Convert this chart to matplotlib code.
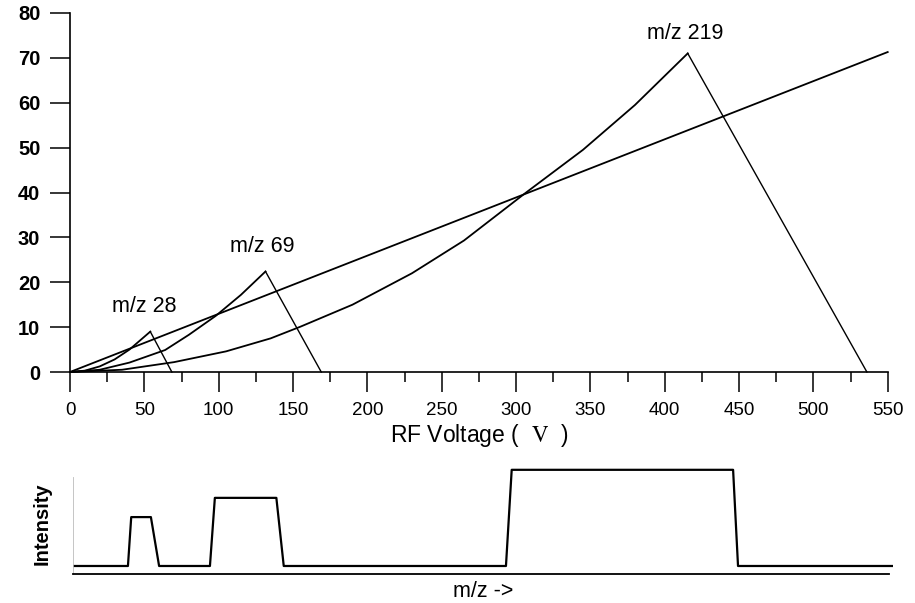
import matplotlib
matplotlib.use("Agg")
import matplotlib.pyplot as plt
from matplotlib.ticker import MultipleLocator

plt.rcParams['font.family'] = ['Liberation Sans', 'DejaVu Sans']
plt.rcParams['mathtext.fontset'] = 'stix'

# stability diagram: RF voltage (V) vs scan line / boundaries
scan_v = [0, 550]
scan_y = [0, 71.3]

mz28_v = [0, 10, 20, 30, 40, 54, 68.5]
mz28_y = [0, 0.3, 1.25, 2.8, 5.0, 9.0, 0]

mz69_v = [0, 20, 40, 64, 80, 98, 115, 131.5, 169]
mz69_y = [0, 0.5, 2.1, 4.9, 8.3, 12.5, 17.2, 22.4, 0]

mz219_v = [0, 35, 70, 105, 135, 155, 190, 230, 265, 306, 345, 380, 415.5, 536]
mz219_y = [0, 0.5, 2.2, 4.6, 7.5, 10.1, 15.0, 22.0, 29.3, 39.8, 49.5, 59.5, 71.0, 0]

labels = ["m/z 28", "m/z 69", "m/z 219"]
label_x = [50, 129.5, 414]
label_y = [14.5, 27.9, 75.4]

# resulting spectrum trace (arbitrary units)
trace_mz = [0, 6.7, 7.1, 9.5, 10.5, 16.7, 17.3, 24.8, 25.7, 52.8, 53.5, 80.5, 81.1, 100]
trace_int = [1.0, 1.0, 7.1, 7.1, 1.0, 1.0, 9.5, 9.5, 1.0, 1.0, 13.0, 13.0, 1.0, 1.0]

fig = plt.figure(figsize=(9.15, 6.03), dpi=100)

# top panel
ax = fig.add_axes([70/915, 1-372/603, 817.7/915, 359/603])
ax.plot(scan_v, scan_y, color='black', lw=1.3, clip_on=False)
for v, y in [(mz28_v, mz28_y), (mz69_v, mz69_y), (mz219_v, mz219_y)]:
    ax.plot(v[:-1], y[:-1], color='black', lw=1.3, clip_on=False)
    ax.plot(v[-2:], y[-2:], color='black', lw=1.0, clip_on=False)
for t, x, y in zip(labels, label_x, label_y):
    ax.text(x, y, t, ha='center', va='center', fontsize=15.5)

ax.set_xlim(0, 550)
ax.set_ylim(0, 80)
ax.xaxis.set_major_locator(MultipleLocator(50))
ax.xaxis.set_minor_locator(MultipleLocator(25))
ax.yaxis.set_major_locator(MultipleLocator(10))
ax.spines['top'].set_visible(False)
ax.spines['right'].set_visible(False)
for s in ['left', 'bottom']:
    ax.spines[s].set_linewidth(1.2)
ax.tick_params(which='major', direction='out', length=14.4, width=1.1, pad=7, labelsize=13.5)
ax.tick_params(which='minor', direction='out', length=7.2, width=1.1)
ax.tick_params(axis='y', labelsize=14.5)
for lab in ax.get_yticklabels():
    lab.set_fontweight('bold')
ax.set_xlabel(r"RF Voltage (  $\mathrm{V}$  )", fontsize=16.5)
ax.xaxis.set_label_coords(0.5, -0.138)

# bottom panel
ax2 = fig.add_axes([73/915, 1-574/603, 820/915, 109/603])
ax2.plot(trace_mz, trace_int, color='black', lw=1.6)
ax2.set_xlim(0, 100)
ax2.set_ylim(0, 13.6)
ax2.set_xticks([])
ax2.set_yticks([])
ax2.spines['top'].set_visible(False)
ax2.spines['right'].set_visible(False)
ax2.spines['bottom'].set_bounds(0, 99.5)
ax2.spines['bottom'].set_linewidth(1.3)
ax2.spines['left'].set_bounds(0, 12.1)
ax2.spines['left'].set_color('#bbbbbb')
ax2.spines['left'].set_linewidth(0.6)
ax2.set_ylabel("Intensity", fontsize=14.5, fontweight='bold')
ax2.yaxis.set_label_coords(-0.026, 0.46)
ax2.set_xlabel("m/z ->", fontsize=15.5)
ax2.xaxis.set_label_coords(0.5, -0.06)

fig.savefig("out.png", dpi=100)
